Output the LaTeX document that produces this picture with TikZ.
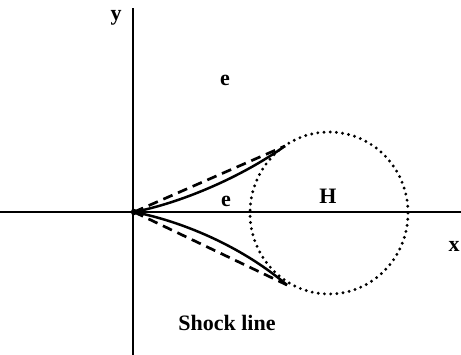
\documentclass[tikz,border=0pt]{standalone}
\usepackage{fontspec}
\setmainfont{Liberation Serif}
\begin{document}
\begin{tikzpicture}[x=1pt,y=-1pt,
  axis/.style={line width=2.5pt},
  lbl/.style={font=\fontsize{22}{24}\selectfont\bfseries, inner sep=0pt},
  dashline/.style={line width=2.7pt, dash pattern=on 10pt off 6pt},
  shock/.style={line width=2.5pt},
  dotcirc/.style={line width=3.2pt, line cap=round, dash pattern=on 0pt off 6.2pt}]
\useasboundingbox (0,0) rectangle (461,355);
% axes
\coordinate (ytop) at (133,8);
\coordinate (ybot) at (133,355);
\coordinate (xl) at (0,212);
\coordinate (xr) at (461,212);
\draw[axis] (ybot) -- (ytop);
\draw[axis] (xl) -- (xr);
% key points
\coordinate (O) at (134,212);
\coordinate (P) at (285,146);
\coordinate (Q) at (287,285);
% dotted circle
\draw[dotcirc] (329,213) ellipse [x radius=79, y radius=81];
% dashed straight lines
\draw[dashline] (O) -- (P);
\draw[dashline] (O) -- (Q);
% shock curves
\draw[shock] (O) .. controls (180,203) and (240,178) .. (P);
\draw[shock] (O) .. controls (180,221) and (240,245) .. (Q);
\fill (O) circle (3.2);
% labels
\node[lbl] (ly) at (116,18) {y};
\node[lbl] (lx) at (454,246) {x};
\node[lbl] (le1) at (225,80) {e};
\node[lbl] (le2) at (226,201) {e};
\node[lbl] (lH) at (328,196) {H};
\node[lbl] (ls) at (227,323) {Shock line};
\end{tikzpicture}
\end{document}
